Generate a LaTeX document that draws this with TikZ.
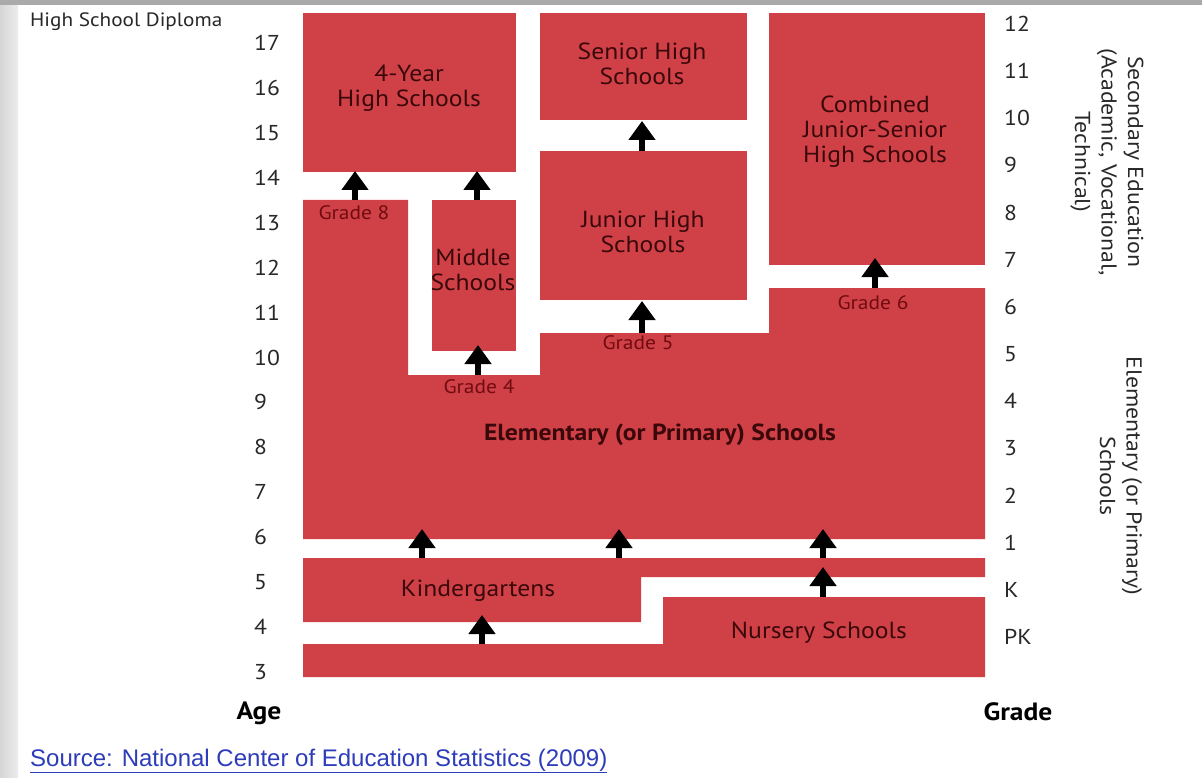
\documentclass[tikz,border=0pt]{standalone}
\usepackage{fontspec}
\setmainfont{PT Sans}[FakeStretch=1.1]
\newfontfamily\arialf{Liberation Sans}
\usetikzlibrary{arrows.meta}
\definecolor{boxred}{RGB}{208,65,71}
\definecolor{labeltxt}{RGB}{58,8,10}
\definecolor{gradetxt}{RGB}{112,12,16}
\definecolor{axistxt}{RGB}{40,40,40}
\definecolor{srcblue}{RGB}{45,60,185}
\definecolor{topgrey}{RGB}{170,170,170}
\definecolor{sidegreyA}{RGB}{214,214,214}
\definecolor{sidegreyB}{RGB}{236,236,236}
\begin{document}
\begin{tikzpicture}[x=1pt,y=-1pt,
  redbox/.style={fill=boxred},
  boxlabel/.style={text=labeltxt, font=\fontsize{23.3}{25}\selectfont, align=center, inner sep=0pt},
  gradelabel/.style={text=gradetxt, font=\fontsize{19.5}{21}\selectfont, inner sep=0pt},
  axisnum/.style={text=axistxt, font=\fontsize{21.5}{23}\selectfont, anchor=west, inner sep=0pt},
  axishead/.style={text=black, font=\bfseries\fontsize{25}{27}\selectfont, inner sep=0pt},
  uparrow/.style={line width=5.5pt, -{Triangle[width=26pt,length=19pt]}, black},
  sidelabel/.style={text=axistxt, font=\fontsize{21.6}{26.5}\selectfont, align=center, rotate=-90, inner sep=0pt}]
\useasboundingbox (0,0) rectangle (1202,778);
% background
\fill[white] (0,0) rectangle (1202,778);
\shade[left color=sidegreyA, right color=sidegreyB] (0,0) rectangle (18,778);
\fill[topgrey] (0,0) rectangle (1202,5);

% red school blocks
\fill[redbox] (303,13) rectangle (516,172);   % 4-year
\fill[redbox] (540,13) rectangle (747,120);   % senior
\fill[redbox] (769,13) rectangle (985,265);   % combined
\fill[redbox] (540,151) rectangle (747,300);  % junior
\fill[redbox] (432,200) rectangle (516,351);  % middle
\fill[redbox] (303,200) -- (408,200) -- (408,375) -- (540,375) -- (540,333)
  -- (769,333) -- (769,288) -- (985,288) -- (985,539) -- (303,539) -- cycle; % elementary
\fill[redbox] (303,558) -- (985,558) -- (985,577) -- (641,577) -- (641,622)
  -- (303,622) -- cycle; % kindergarten
\fill[redbox] (663,597) -- (985,597) -- (985,677) -- (303,677) -- (303,644)
  -- (663,644) -- cycle; % nursery

% labels in blocks
\node[boxlabel] (l4y) at (409,88) {4-Year\\High Schools};
\node[boxlabel] (lsen) at (642,64) {Senior High\\Schools};
\node[boxlabel] (ljun) at (643,232) {Junior High\\Schools};
\node[boxlabel] (lmid) at (473,270) {Middle\\Schools};
\node[boxlabel] (lcomb) at (875,132) {Combined\\Junior-Senior\\High Schools};
\node[boxlabel, font=\bfseries\fontsize{23.3}{25}\selectfont] (lelem) at (660,435) {Elementary (or Primary) Schools};
\node[boxlabel] (lkin) at (478,591) {Kindergartens};
\node[boxlabel] (lnur) at (819,633) {Nursery Schools};

\node[gradelabel] (g8) at (354,213) {Grade 8};
\node[gradelabel] (g4) at (479,387) {Grade 4};
\node[gradelabel] (g5) at (638,343) {Grade 5};
\node[gradelabel] (g6) at (873,303) {Grade 6};

% arrows
\coordinate (a1s) at (355,200); \coordinate (a1e) at (355,171);
\coordinate (a2s) at (477,200); \coordinate (a2e) at (477,171);
\coordinate (a3s) at (478,375); \coordinate (a3e) at (478,345);
\coordinate (a4s) at (642,151); \coordinate (a4e) at (642,121);
\coordinate (a5s) at (642,333); \coordinate (a5e) at (642,301);
\coordinate (a6s) at (875,288); \coordinate (a6e) at (875,258);
\coordinate (a7s) at (422,558); \coordinate (a7e) at (422,529);
\coordinate (a8s) at (619,558); \coordinate (a8e) at (619,529);
\coordinate (a9s) at (823,558); \coordinate (a9e) at (823,529);
\coordinate (a10s) at (823,597); \coordinate (a10e) at (823,567);
\coordinate (a11s) at (482,644); \coordinate (a11e) at (482,615);
\foreach \i in {1,...,11} {\draw[uparrow] (a\i s) -- (a\i e);}

% age axis
\node[text=axistxt, font=\fontsize{19.3}{21}\selectfont, anchor=west, inner sep=0pt] (hsd) at (30,22) {High School Diploma};
\foreach \a [count=\k from 0] in {17,16,15,14,13,12,11,10,9,8,7,6,5,4,3}
  {\node[axisnum] (age\a) at (254,{43+\k*44.93}) {\a};}
\node[axishead] (agehead) at (259,713) {Age};

% grade axis
\foreach \g [count=\k from 0] in {12,11,10,9,8,7,6,5,4,3,2,1,K,PK}
  {\node[axisnum] (gr\k) at (1004,{24+\k*47.15}) {\g};}
\node[axishead] (gradehead) at (1018,712) {Grade};

% side labels
\node[sidelabel] (secl) at (1107,162) {Secondary Education\\(Academic, Vocational,\\Technical)};
\node[sidelabel] (elel) at (1121,476) {Elementary (or Primary)\\Schools};

% source
\node[anchor=west, text=srcblue, font=\arialf\fontsize{24}{26}\selectfont, inner sep=0pt] (src) at (30,761) {\underline{Source: National Center of Education Statistics (2009)}};
\end{tikzpicture}
\end{document}
